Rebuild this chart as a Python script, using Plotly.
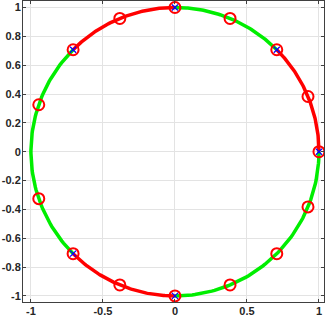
import numpy as np
import plotly.graph_objects as go

# Arc segments: boundary angles (degrees) and their colours
seg_start = [0, 45, 90, 135, 225, 270]
seg_end = [45, 90, 135, 225, 270, 360]
seg_color = ["#ff0000", "#00ee00", "#ff0000", "#00ee00", "#ff0000", "#00ee00"]

# Red circle points (angles in degrees)
circle_angles = [0, 22.5, 45, 67.5, 90, 112.5, 135, 161, 199, 225, 247.5, 270, 292.5, 315, 337.5]
# Blue x points (angles in degrees)
cross_angles = [0, 45, 90, 135, 225, 270]

x_ticks = [-1, -0.5, 0, 0.5, 1]
x_labels = ["-1", "-0.5", "0", "0.5", "1"]
y_ticks = [-1, -0.8, -0.6, -0.4, -0.2, 0, 0.2, 0.4, 0.6, 0.8, 1]
y_labels = ["-1", "-0.8", "-0.6", "-0.4", "-0.2", "0", "0.2", "0.4", "0.6", "0.8", "1"]

fig = go.Figure()
for a0, a1, c in zip(seg_start, seg_end, seg_color):
    t = np.radians(np.linspace(a0, a1, 80))
    fig.add_trace(go.Scatter(x=np.cos(t), y=np.sin(t), mode="lines",
                             line=dict(color=c, width=3.5), hoverinfo="skip"))

ca = np.radians(circle_angles)
fig.add_trace(go.Scatter(x=np.cos(ca), y=np.sin(ca), mode="markers",
                         marker=dict(symbol="circle-open", size=11, color="#ff0000",
                                     line=dict(width=2, color="#ff0000"))))
xa = np.radians(cross_angles)
fig.add_trace(go.Scatter(x=np.cos(xa), y=np.sin(xa), mode="markers",
                         marker=dict(symbol="x-thin-open", size=6, color="#0000ff",
                                     line=dict(width=1.2, color="#0000ff"))))

axis_common = dict(showgrid=True, gridcolor="#e3e3e3", gridwidth=1, zeroline=False,
                   showline=True, linecolor="#404040", linewidth=1, mirror="ticks",
                   ticks="inside", ticklen=3, tickcolor="#404040", automargin=False,
                   tickfont=dict(family="Liberation Sans, Arial", size=11, color="#262626", weight="bold"))

fig.update_layout(
    width=327, height=319, showlegend=False,
    margin=dict(l=23, r=3, t=1, b=17),
    plot_bgcolor="white", paper_bgcolor="white",
    xaxis=dict(range=[-1.055, 1.035], tickvals=x_ticks, ticktext=x_labels,
               ticklabelstandoff=-1, **axis_common),
    yaxis=dict(range=[-1.042, 1.045], tickvals=y_ticks, ticktext=y_labels,
               ticklabelstandoff=-1, **axis_common),
)
fig.write_html("out.html", config={"displayModeBar": False},
               post_script="document.body.style.margin='0';document.body.style.overflow='hidden';")
